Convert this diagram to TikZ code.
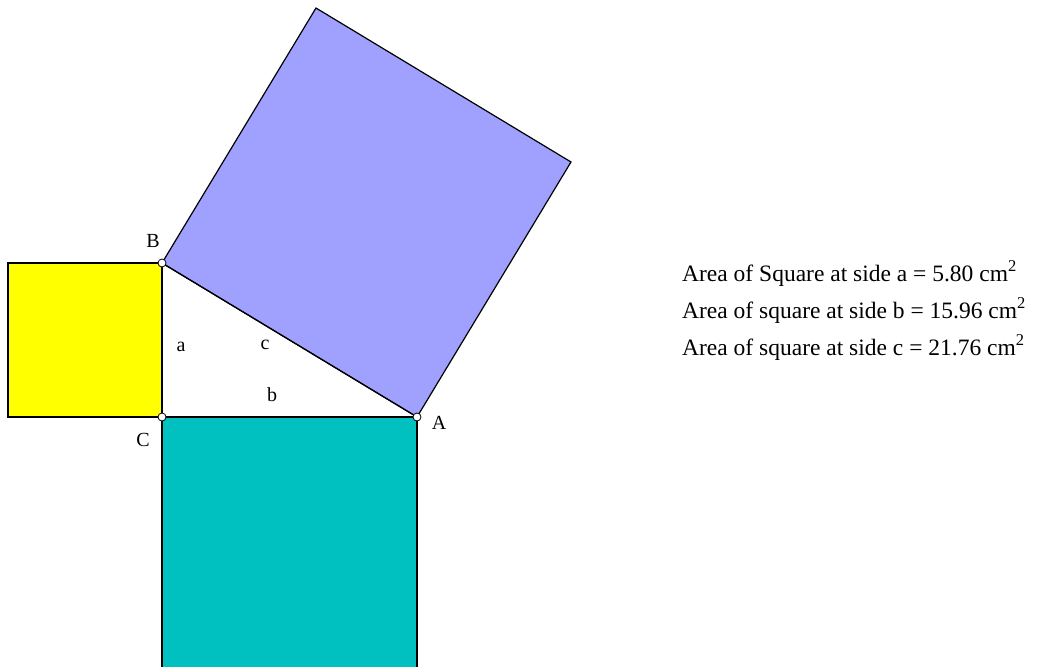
\documentclass[tikz,border=0pt]{standalone}
\usepackage{fontspec}
\setmainfont{Liberation Serif}
\newcommand{\sqsup}{\raisebox{0.42em}{\fontsize{16.5}{16.5}\selectfont 2}}
\begin{document}
\begin{tikzpicture}[x=1pt,y=-1pt,
  sq/.style={draw=black,line width=1.2pt,line join=miter},
  pt/.style={circle,draw=black,fill=white,inner sep=0pt,minimum size=8pt,line width=0.8pt},
  lbl/.style={font=\fontsize{20}{20}\selectfont,inner sep=0pt},
  info/.style={font=\fontsize{23.5}{23.5}\selectfont,inner sep=0pt,anchor=base west}]
\useasboundingbox (0,0) rectangle (1037,667);
\begin{scope}
\clip (0,0) rectangle (1037,667);
\coordinate (C) at (162,417);
\coordinate (B) at (162,263);
\coordinate (A) at (417,417);
\coordinate (P1) at (8,263);
\coordinate (P2) at (8,417);
\coordinate (Q1) at (316,8);
\coordinate (Q2) at (571,162);
\coordinate (R1) at (162,672);
\coordinate (R2) at (417,672);
\filldraw[sq,fill={rgb,255:red,255;green,255;blue,0}] (B) -- (P1) -- (P2) -- (C) -- cycle;
\filldraw[sq,fill={rgb,255:red,0;green,192;blue,192}] (C) -- (R1) -- (R2) -- (A) -- cycle;
\filldraw[sq,fill={rgb,255:red,160;green,160;blue,255}] (B) -- (Q1) -- (Q2) -- (A) -- cycle;
\draw[sq] (A) -- (B) -- (C) -- cycle;
\end{scope}
\node[pt] (nA) at (A) {};
\node[pt] (nB) at (B) {};
\node[pt] (nC) at (C) {};
\node[lbl] (lA) at (439,423) {A};
\node[lbl] (lB) at (153,241) {B};
\node[lbl] (lC) at (143,440) {C};
\node[lbl] (la) at (181,347) {a};
\node[lbl] (lc) at (265,345) {c};
\node[lbl] (lb) at (272,395) {b};
\node[info] (t1) at (682,281) {Area of Square at side a = 5.80 cm\sqsup};
\node[info] (t2) at (682,318) {Area of square at side b = 15.96 cm\sqsup};
\node[info] (t3) at (682,355) {Area of square at side c = 21.76 cm\sqsup};
\end{tikzpicture}
\end{document}
